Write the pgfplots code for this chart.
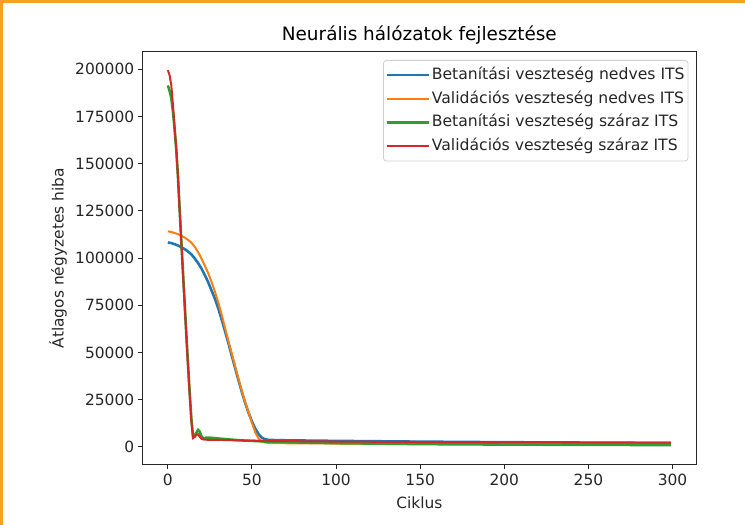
\documentclass[border=0pt]{standalone}
\usepackage{fontspec}
\setmainfont{DejaVu Sans}
\usepackage{pgfplots}
\pgfplotsset{compat=1.18}
\definecolor{mplblue}{HTML}{1F77B4}
\definecolor{mplorange}{HTML}{FF7F0E}
\definecolor{mplgreen}{HTML}{2CA02C}
\definecolor{mplred}{HTML}{D62728}
\definecolor{frameorange}{RGB}{246,163,33}
\begin{document}
\begin{tikzpicture}
\path[use as bounding box] (0,0) rectangle (745bp,525bp);
\fill[frameorange] (0,522bp) rectangle (745bp,525bp);
\fill[frameorange] (0,0) rectangle (3bp,525bp);
\begin{axis}[
  at={(142.7bp,60.7bp)}, anchor=south west,
  scale only axis, width=553.3bp, height=412.3bp,
  xmin=-14.95, xmax=313.95, ymin=-9200, ymax=209200,
  xtick={0,50,100,150,200,250,300},
  ytick={0,25000,50000,75000,100000,125000,150000,175000,200000},
  scaled y ticks=false,
  xtick pos=bottom, ytick pos=left,
  tick align=outside,
  major tick length=5bp,
  axis line style={black!85, line width=1bp},
  major tick style={black!85, line width=1bp},
  /pgf/number format/assume math mode=true,
  yticklabel style={/pgf/number format/.cd, fixed, set thousands separator={}, /tikz/.cd, font=\fontsize{15.5}{18}\selectfont, text=black!85},
  xticklabel style={font=\fontsize{15.5}{18}\selectfont, text=black!85, yshift=-1.5bp},
  title={Neurális hálózatok fejlesztése},
  title style={font=\fontsize{18.5}{22}\selectfont, at={(axis description cs:0.5,1)}, anchor=center, yshift=11bp},
  xlabel={Ciklus},
  xlabel style={font=\fontsize{15.5}{18}\selectfont, text=black!85, at={(axis description cs:0.5,0)}, anchor=center, yshift=-38.7bp},
  ylabel={Átlagos négyzetes hiba},
  ylabel style={font=\fontsize{15.5}{18}\selectfont, text=black!85, at={(axis description cs:-0.1531,0.5)}, anchor=center},
  legend cell align=left,
  legend style={at={(1,1)}, anchor=north east, xshift=-7.7bp, yshift=-8bp,
    draw=black!18, rounded corners=3bp, line width=0.8bp,
    font=\fontsize{15.7}{18}\selectfont, text=black!85,
    nodes={inner sep=1.5bp, text height=11.5bp, text depth=3bp},
    row sep=6.2bp, inner xsep=1.8bp, inner ysep=6bp},
  legend image code/.code={\draw[#1] (0bp,0bp) -- (34bp,0bp); \path (0bp,0bp) -- (42.5bp,0bp);},
]
\addplot[mplblue, line width=2.6bp] coordinates {
(0,108300)(2,108000)(4,107400)(6,106700)(8,105800)(10,104800)(12,103500)(14,102000)
(16,99800)(18,97400)(20,94500)(22,91000)(24,87200)(26,82800)(28,78500)(30,73300)
(32,67500)(34,61300)(36,55000)(38,48300)(40,41800)(42,35300)(44,29000)(46,23200)
(48,18000)(50,13500)(52,9600)(54,6700)(56,4800)(58,4000)(60,3700)(70,3500)
(100,3200)(150,2800)(200,2500)(250,2300)(299,2100)};
\addlegendentry{Betanítási veszteség nedves ITS}
\addplot[mplorange, line width=2.0bp] coordinates {
(0,114200)(2,113900)(4,113300)(6,112700)(8,111900)(10,110900)(12,109700)(14,108200)
(16,106000)(18,103200)(20,99800)(22,96000)(24,92000)(26,87300)(28,82200)(30,76500)
(32,70000)(34,63000)(36,56000)(38,49500)(40,42600)(42,36000)(44,29500)(46,23600)
(48,18300)(50,12700)(52,7600)(54,4400)(56,2900)(58,2300)(60,2100)(70,1950)
(100,1800)(150,1650)(200,1550)(250,1450)(299,1400)};
\addlegendentry{Validációs veszteség nedves ITS}
\addplot[mplgreen, line width=2.6bp] coordinates {
(0,191500)(1,188800)(2,185000)(3,178000)(4,168500)(5,157500)(6,143500)(7,126000)
(8,109000)(9,92500)(10,76000)(11,59500)(12,43500)(13,28500)(14,14500)(15,5300)
(16,5800)(17,7600)(18,9000)(19,8000)(20,5500)(21,4600)(22,4700)(23,4900)(25,4900)
(28,4600)(32,4300)(36,4000)(40,3700)(45,3400)(50,3200)(60,2800)(80,2300)(100,2000)
(150,1500)(200,1250)(250,1100)(299,1000)};
\addlegendentry{Betanítási veszteség száraz ITS}
\addplot[mplred, line width=2.0bp] coordinates {
(0,199600)(1,197000)(2,192000)(3,181500)(4,169600)(5,158000)(6,143500)(7,125500)
(8,108500)(9,91500)(10,75000)(11,58500)(12,42500)(13,27500)(14,13500)(15,4700)
(16,5300)(17,6400)(18,6700)(19,5300)(20,4300)(21,4000)(22,3850)(25,3750)(30,3700)
(35,3650)(40,3500)(50,3300)(60,3150)(80,3000)(100,2850)(150,2600)(200,2450)
(250,2300)(299,2250)};
\addlegendentry{Validációs veszteség száraz ITS}
\end{axis}
\end{tikzpicture}
\end{document}
